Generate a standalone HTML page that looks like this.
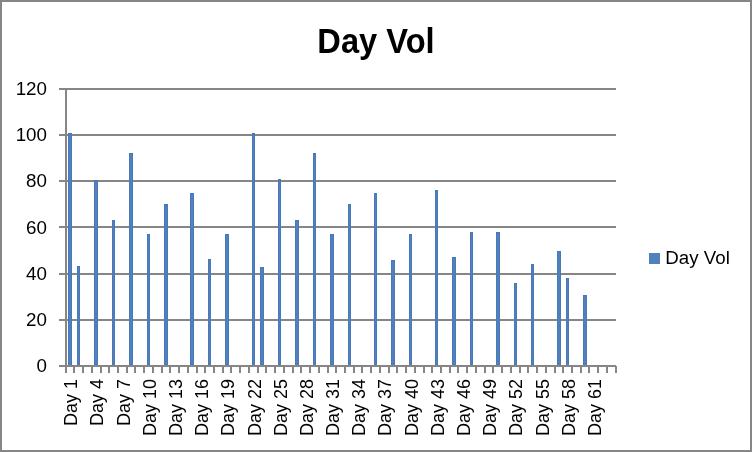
<!DOCTYPE html>
<html><head><meta charset="utf-8"><style>
html,body{margin:0;padding:0;background:#fff;}
body{width:752px;height:452px;overflow:hidden;position:relative;}
svg{position:absolute;left:0;top:0;will-change:transform;}
text{font-family:"Liberation Sans",sans-serif;fill:#000;}
</style></head><body>
<svg width="752" height="452" viewBox="0 0 752 452">
<rect x="1" y="1" width="750" height="450" fill="#fff" stroke="#868686" stroke-width="2"/>
<rect x="59" y="319" width="557" height="2" fill="#868686"/>
<rect x="59" y="273" width="557" height="2" fill="#868686"/>
<rect x="59" y="226" width="557" height="2" fill="#868686"/>
<rect x="59" y="180" width="557" height="2" fill="#868686"/>
<rect x="59" y="134" width="557" height="2" fill="#868686"/>
<rect x="59" y="88" width="557" height="2" fill="#868686"/>
<rect x="68" y="133" width="4" height="232" fill="#4f81bd"/>
<rect x="68" y="133" width="1" height="232" fill="#4979ba"/>
<rect x="71" y="133" width="1" height="232" fill="#4979ba"/>
<rect x="68" y="133" width="4" height="1" fill="#4677b8"/>
<rect x="77" y="266" width="3" height="99" fill="#4f81bd"/>
<rect x="77" y="266" width="1" height="99" fill="#4979ba"/>
<rect x="79" y="266" width="1" height="99" fill="#4979ba"/>
<rect x="77" y="266" width="3" height="1" fill="#4677b8"/>
<rect x="94" y="180" width="4" height="185" fill="#4f81bd"/>
<rect x="94" y="180" width="1" height="185" fill="#4979ba"/>
<rect x="97" y="180" width="1" height="185" fill="#4979ba"/>
<rect x="94" y="180" width="4" height="1" fill="#4677b8"/>
<rect x="112" y="220" width="3" height="145" fill="#4f81bd"/>
<rect x="112" y="220" width="1" height="145" fill="#4979ba"/>
<rect x="114" y="220" width="1" height="145" fill="#4979ba"/>
<rect x="112" y="220" width="3" height="1" fill="#4677b8"/>
<rect x="129" y="153" width="4" height="212" fill="#4f81bd"/>
<rect x="129" y="153" width="1" height="212" fill="#4979ba"/>
<rect x="132" y="153" width="1" height="212" fill="#4979ba"/>
<rect x="129" y="153" width="4" height="1" fill="#4677b8"/>
<rect x="147" y="234" width="3" height="131" fill="#4f81bd"/>
<rect x="147" y="234" width="1" height="131" fill="#4979ba"/>
<rect x="149" y="234" width="1" height="131" fill="#4979ba"/>
<rect x="147" y="234" width="3" height="1" fill="#4677b8"/>
<rect x="164" y="204" width="4" height="161" fill="#4f81bd"/>
<rect x="164" y="204" width="1" height="161" fill="#4979ba"/>
<rect x="167" y="204" width="1" height="161" fill="#4979ba"/>
<rect x="164" y="204" width="4" height="1" fill="#4677b8"/>
<rect x="190" y="193" width="4" height="172" fill="#4f81bd"/>
<rect x="190" y="193" width="1" height="172" fill="#4979ba"/>
<rect x="193" y="193" width="1" height="172" fill="#4979ba"/>
<rect x="190" y="193" width="4" height="1" fill="#4677b8"/>
<rect x="208" y="259" width="3" height="106" fill="#4f81bd"/>
<rect x="208" y="259" width="1" height="106" fill="#4979ba"/>
<rect x="210" y="259" width="1" height="106" fill="#4979ba"/>
<rect x="208" y="259" width="3" height="1" fill="#4677b8"/>
<rect x="225" y="234" width="4" height="131" fill="#4f81bd"/>
<rect x="225" y="234" width="1" height="131" fill="#4979ba"/>
<rect x="228" y="234" width="1" height="131" fill="#4979ba"/>
<rect x="225" y="234" width="4" height="1" fill="#4677b8"/>
<rect x="252" y="133" width="3" height="232" fill="#4f81bd"/>
<rect x="252" y="133" width="1" height="232" fill="#4979ba"/>
<rect x="254" y="133" width="1" height="232" fill="#4979ba"/>
<rect x="252" y="133" width="3" height="1" fill="#4677b8"/>
<rect x="260" y="267" width="4" height="98" fill="#4f81bd"/>
<rect x="260" y="267" width="1" height="98" fill="#4979ba"/>
<rect x="263" y="267" width="1" height="98" fill="#4979ba"/>
<rect x="260" y="267" width="4" height="1" fill="#4677b8"/>
<rect x="278" y="179" width="3" height="186" fill="#4f81bd"/>
<rect x="278" y="179" width="1" height="186" fill="#4979ba"/>
<rect x="280" y="179" width="1" height="186" fill="#4979ba"/>
<rect x="278" y="179" width="3" height="1" fill="#4677b8"/>
<rect x="295" y="220" width="4" height="145" fill="#4f81bd"/>
<rect x="295" y="220" width="1" height="145" fill="#4979ba"/>
<rect x="298" y="220" width="1" height="145" fill="#4979ba"/>
<rect x="295" y="220" width="4" height="1" fill="#4677b8"/>
<rect x="313" y="153" width="3" height="212" fill="#4f81bd"/>
<rect x="313" y="153" width="1" height="212" fill="#4979ba"/>
<rect x="315" y="153" width="1" height="212" fill="#4979ba"/>
<rect x="313" y="153" width="3" height="1" fill="#4677b8"/>
<rect x="330" y="234" width="4" height="131" fill="#4f81bd"/>
<rect x="330" y="234" width="1" height="131" fill="#4979ba"/>
<rect x="333" y="234" width="1" height="131" fill="#4979ba"/>
<rect x="330" y="234" width="4" height="1" fill="#4677b8"/>
<rect x="348" y="204" width="3" height="161" fill="#4f81bd"/>
<rect x="348" y="204" width="1" height="161" fill="#4979ba"/>
<rect x="350" y="204" width="1" height="161" fill="#4979ba"/>
<rect x="348" y="204" width="3" height="1" fill="#4677b8"/>
<rect x="374" y="193" width="3" height="172" fill="#4f81bd"/>
<rect x="374" y="193" width="1" height="172" fill="#4979ba"/>
<rect x="376" y="193" width="1" height="172" fill="#4979ba"/>
<rect x="374" y="193" width="3" height="1" fill="#4677b8"/>
<rect x="391" y="260" width="4" height="105" fill="#4f81bd"/>
<rect x="391" y="260" width="1" height="105" fill="#4979ba"/>
<rect x="394" y="260" width="1" height="105" fill="#4979ba"/>
<rect x="391" y="260" width="4" height="1" fill="#4677b8"/>
<rect x="409" y="234" width="3" height="131" fill="#4f81bd"/>
<rect x="409" y="234" width="1" height="131" fill="#4979ba"/>
<rect x="411" y="234" width="1" height="131" fill="#4979ba"/>
<rect x="409" y="234" width="3" height="1" fill="#4677b8"/>
<rect x="435" y="190" width="3" height="175" fill="#4f81bd"/>
<rect x="435" y="190" width="1" height="175" fill="#4979ba"/>
<rect x="437" y="190" width="1" height="175" fill="#4979ba"/>
<rect x="435" y="190" width="3" height="1" fill="#4677b8"/>
<rect x="452" y="257" width="4" height="108" fill="#4f81bd"/>
<rect x="452" y="257" width="1" height="108" fill="#4979ba"/>
<rect x="455" y="257" width="1" height="108" fill="#4979ba"/>
<rect x="452" y="257" width="4" height="1" fill="#4677b8"/>
<rect x="470" y="232" width="3" height="133" fill="#4f81bd"/>
<rect x="470" y="232" width="1" height="133" fill="#4979ba"/>
<rect x="472" y="232" width="1" height="133" fill="#4979ba"/>
<rect x="470" y="232" width="3" height="1" fill="#4677b8"/>
<rect x="496" y="232" width="4" height="133" fill="#4f81bd"/>
<rect x="496" y="232" width="1" height="133" fill="#4979ba"/>
<rect x="499" y="232" width="1" height="133" fill="#4979ba"/>
<rect x="496" y="232" width="4" height="1" fill="#4677b8"/>
<rect x="514" y="283" width="3" height="82" fill="#4f81bd"/>
<rect x="514" y="283" width="1" height="82" fill="#4979ba"/>
<rect x="516" y="283" width="1" height="82" fill="#4979ba"/>
<rect x="514" y="283" width="3" height="1" fill="#4677b8"/>
<rect x="531" y="264" width="3" height="101" fill="#4f81bd"/>
<rect x="531" y="264" width="1" height="101" fill="#4979ba"/>
<rect x="533" y="264" width="1" height="101" fill="#4979ba"/>
<rect x="531" y="264" width="3" height="1" fill="#4677b8"/>
<rect x="557" y="251" width="4" height="114" fill="#4f81bd"/>
<rect x="557" y="251" width="1" height="114" fill="#4979ba"/>
<rect x="560" y="251" width="1" height="114" fill="#4979ba"/>
<rect x="557" y="251" width="4" height="1" fill="#4677b8"/>
<rect x="566" y="278" width="3" height="87" fill="#4f81bd"/>
<rect x="566" y="278" width="1" height="87" fill="#4979ba"/>
<rect x="568" y="278" width="1" height="87" fill="#4979ba"/>
<rect x="566" y="278" width="3" height="1" fill="#4677b8"/>
<rect x="583" y="295" width="4" height="70" fill="#4f81bd"/>
<rect x="583" y="295" width="1" height="70" fill="#4979ba"/>
<rect x="586" y="295" width="1" height="70" fill="#4979ba"/>
<rect x="583" y="295" width="4" height="1" fill="#4677b8"/>
<rect x="65" y="88" width="2" height="279" fill="#868686"/>
<rect x="59" y="365" width="557" height="2" fill="#868686"/>
<rect x="65" y="365" width="2" height="8" fill="#868686"/>
<rect x="73" y="365" width="2" height="8" fill="#868686"/>
<rect x="82" y="365" width="2" height="8" fill="#868686"/>
<rect x="91" y="365" width="2" height="8" fill="#868686"/>
<rect x="100" y="365" width="2" height="8" fill="#868686"/>
<rect x="108" y="365" width="2" height="8" fill="#868686"/>
<rect x="117" y="365" width="2" height="8" fill="#868686"/>
<rect x="126" y="365" width="2" height="8" fill="#868686"/>
<rect x="134" y="365" width="2" height="8" fill="#868686"/>
<rect x="143" y="365" width="2" height="8" fill="#868686"/>
<rect x="152" y="365" width="2" height="8" fill="#868686"/>
<rect x="161" y="365" width="2" height="8" fill="#868686"/>
<rect x="169" y="365" width="2" height="8" fill="#868686"/>
<rect x="178" y="365" width="2" height="8" fill="#868686"/>
<rect x="187" y="365" width="2" height="8" fill="#868686"/>
<rect x="196" y="365" width="2" height="8" fill="#868686"/>
<rect x="204" y="365" width="2" height="8" fill="#868686"/>
<rect x="213" y="365" width="2" height="8" fill="#868686"/>
<rect x="222" y="365" width="2" height="8" fill="#868686"/>
<rect x="230" y="365" width="2" height="8" fill="#868686"/>
<rect x="239" y="365" width="2" height="8" fill="#868686"/>
<rect x="248" y="365" width="2" height="8" fill="#868686"/>
<rect x="257" y="365" width="2" height="8" fill="#868686"/>
<rect x="265" y="365" width="2" height="8" fill="#868686"/>
<rect x="274" y="365" width="2" height="8" fill="#868686"/>
<rect x="283" y="365" width="2" height="8" fill="#868686"/>
<rect x="292" y="365" width="2" height="8" fill="#868686"/>
<rect x="300" y="365" width="2" height="8" fill="#868686"/>
<rect x="309" y="365" width="2" height="8" fill="#868686"/>
<rect x="318" y="365" width="2" height="8" fill="#868686"/>
<rect x="327" y="365" width="2" height="8" fill="#868686"/>
<rect x="335" y="365" width="2" height="8" fill="#868686"/>
<rect x="344" y="365" width="2" height="8" fill="#868686"/>
<rect x="353" y="365" width="2" height="8" fill="#868686"/>
<rect x="361" y="365" width="2" height="8" fill="#868686"/>
<rect x="370" y="365" width="2" height="8" fill="#868686"/>
<rect x="379" y="365" width="2" height="8" fill="#868686"/>
<rect x="388" y="365" width="2" height="8" fill="#868686"/>
<rect x="396" y="365" width="2" height="8" fill="#868686"/>
<rect x="405" y="365" width="2" height="8" fill="#868686"/>
<rect x="414" y="365" width="2" height="8" fill="#868686"/>
<rect x="423" y="365" width="2" height="8" fill="#868686"/>
<rect x="431" y="365" width="2" height="8" fill="#868686"/>
<rect x="440" y="365" width="2" height="8" fill="#868686"/>
<rect x="449" y="365" width="2" height="8" fill="#868686"/>
<rect x="457" y="365" width="2" height="8" fill="#868686"/>
<rect x="466" y="365" width="2" height="8" fill="#868686"/>
<rect x="475" y="365" width="2" height="8" fill="#868686"/>
<rect x="484" y="365" width="2" height="8" fill="#868686"/>
<rect x="492" y="365" width="2" height="8" fill="#868686"/>
<rect x="501" y="365" width="2" height="8" fill="#868686"/>
<rect x="510" y="365" width="2" height="8" fill="#868686"/>
<rect x="519" y="365" width="2" height="8" fill="#868686"/>
<rect x="527" y="365" width="2" height="8" fill="#868686"/>
<rect x="536" y="365" width="2" height="8" fill="#868686"/>
<rect x="545" y="365" width="2" height="8" fill="#868686"/>
<rect x="554" y="365" width="2" height="8" fill="#868686"/>
<rect x="562" y="365" width="2" height="8" fill="#868686"/>
<rect x="571" y="365" width="2" height="8" fill="#868686"/>
<rect x="580" y="365" width="2" height="8" fill="#868686"/>
<rect x="588" y="365" width="2" height="8" fill="#868686"/>
<rect x="597" y="365" width="2" height="8" fill="#868686"/>
<rect x="606" y="365" width="2" height="8" fill="#868686"/>
<rect x="615" y="366" width="2" height="7" fill="#868686"/>
<g font-size="18">
<text x="0" y="0" text-anchor="end" transform="translate(47 372.0) scale(1.045 1)">0</text>
<text x="0" y="0" text-anchor="end" transform="translate(47 325.8) scale(1.045 1)">20</text>
<text x="0" y="0" text-anchor="end" transform="translate(47 279.7) scale(1.045 1)">40</text>
<text x="0" y="0" text-anchor="end" transform="translate(47 233.5) scale(1.045 1)">60</text>
<text x="0" y="0" text-anchor="end" transform="translate(47 187.3) scale(1.045 1)">80</text>
<text x="0" y="0" text-anchor="end" transform="translate(47 141.2) scale(1.045 1)">100</text>
<text x="0" y="0" text-anchor="end" transform="translate(47 95.0) scale(1.045 1)">120</text>
<text transform="translate(77.20,379) rotate(-90)" text-anchor="end">Day 1</text>
<text transform="translate(103.39,379) rotate(-90)" text-anchor="end">Day 4</text>
<text transform="translate(129.58,379) rotate(-90)" text-anchor="end">Day 7</text>
<text transform="translate(155.77,379) rotate(-90)" text-anchor="end">Day 10</text>
<text transform="translate(181.96,379) rotate(-90)" text-anchor="end">Day 13</text>
<text transform="translate(208.15,379) rotate(-90)" text-anchor="end">Day 16</text>
<text transform="translate(234.34,379) rotate(-90)" text-anchor="end">Day 19</text>
<text transform="translate(260.53,379) rotate(-90)" text-anchor="end">Day 22</text>
<text transform="translate(286.72,379) rotate(-90)" text-anchor="end">Day 25</text>
<text transform="translate(312.91,379) rotate(-90)" text-anchor="end">Day 28</text>
<text transform="translate(339.10,379) rotate(-90)" text-anchor="end">Day 31</text>
<text transform="translate(365.29,379) rotate(-90)" text-anchor="end">Day 34</text>
<text transform="translate(391.48,379) rotate(-90)" text-anchor="end">Day 37</text>
<text transform="translate(417.67,379) rotate(-90)" text-anchor="end">Day 40</text>
<text transform="translate(443.86,379) rotate(-90)" text-anchor="end">Day 43</text>
<text transform="translate(470.05,379) rotate(-90)" text-anchor="end">Day 46</text>
<text transform="translate(496.24,379) rotate(-90)" text-anchor="end">Day 49</text>
<text transform="translate(522.43,379) rotate(-90)" text-anchor="end">Day 52</text>
<text transform="translate(548.62,379) rotate(-90)" text-anchor="end">Day 55</text>
<text transform="translate(574.81,379) rotate(-90)" text-anchor="end">Day 58</text>
<text transform="translate(601.00,379) rotate(-90)" text-anchor="end">Day 61</text>
</g>
<text x="376" y="52.7" text-anchor="middle" font-size="35.5" font-weight="bold" transform="translate(376 0) scale(0.92 1) translate(-376 0)">Day Vol</text>
<rect x="649" y="253" width="11" height="11" fill="#4f81bd"/>
<text x="0" y="0" font-size="18" transform="translate(665.3 264) scale(1.04 1)">Day Vol</text>
</svg>
</body></html>
